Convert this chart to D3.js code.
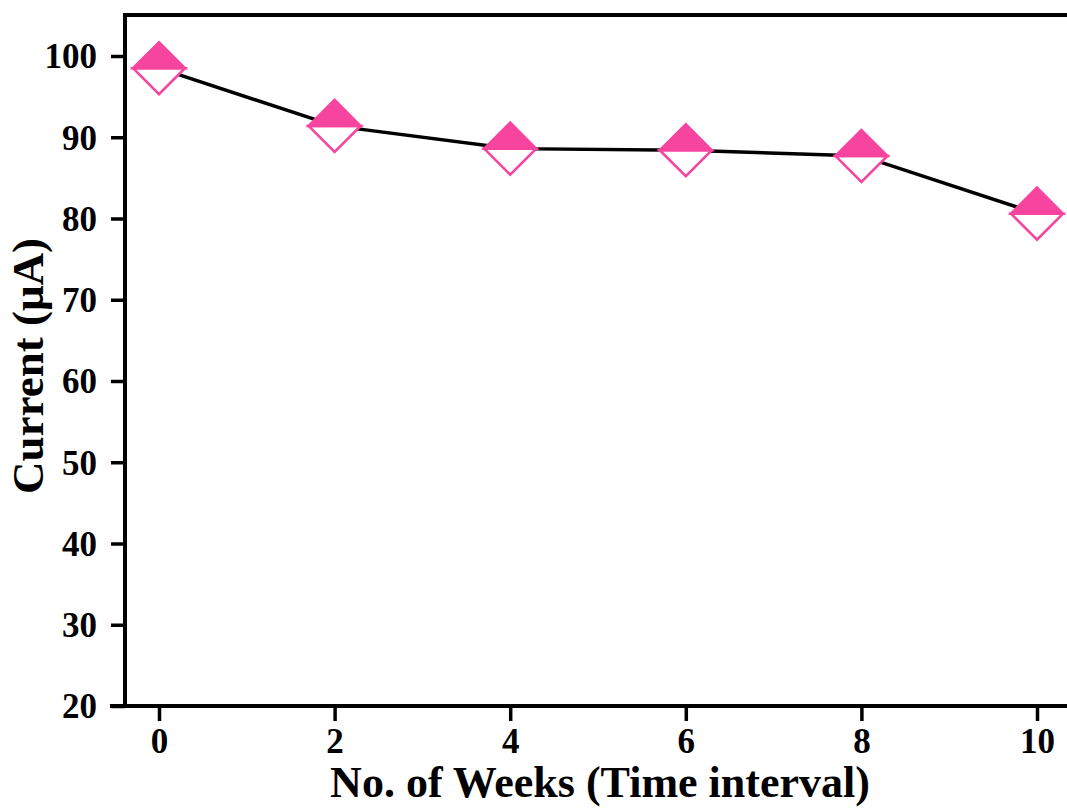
<!DOCTYPE html>
<html lang="en">
<head>
    <meta charset="UTF-8">
    <title>Current vs No. of Weeks</title>
    <style>
        body {
            margin: 0;
            padding: 0;
            background-color: #fff;
            overflow: hidden;
        }

        #chart text {
            font-family: "Liberation Serif", "Times New Roman", serif;
            font-weight: bold;
            fill: #000;
        }
    </style>
</head>
<body>

<svg id="chart" width="1067" height="810"></svg>

<script src="https://d3js.org/d3.v7.min.js"></script>
<script>
    // data
    const weeks = [0, 2, 4, 6, 8, 10];
    const current = [98.5, 91.4, 88.6, 88.4, 87.7, 80.6];
    const xTicks = [0, 2, 4, 6, 8, 10];
    const yTicks = [20, 30, 40, 50, 60, 70, 80, 90, 100];

    const pink = "#f7449f";
    const markerR = 26;

    const svg = d3.select("#chart");

    const x = d3.scaleLinear().domain([0, 10]).range([159, 1037]);
    const y = d3.scaleLinear().domain([20, 100]).range([706, 56]);

    const plotLeft = 125;
    const plotTop = y(105.05);
    const plotBottom = y(20);
    const plotRight = x(10.6); // right spine falls outside the picture

    // frame
    svg.append("path")
        .attr("d", `M${plotLeft},${plotBottom} L${plotLeft},${plotTop} L${plotRight},${plotTop} L${plotRight},${plotBottom}`)
        .attr("fill", "none")
        .attr("stroke", "#000")
        .attr("stroke-width", 4);

    // x axis
    const xAxis = svg.append("g")
        .attr("transform", `translate(0,${plotBottom})`)
        .call(d3.axisBottom(x).tickValues(xTicks).tickSizeOuter(0).tickSize(15).tickPadding(7));
    xAxis.select(".domain").remove();
    xAxis.append("line")
        .attr("x1", plotLeft - 15).attr("x2", plotRight)
        .attr("stroke", "#000").attr("stroke-width", 4);
    xAxis.selectAll(".tick line").attr("stroke", "#000").attr("stroke-width", 3.5);
    xAxis.selectAll(".tick text").style("font-size", "35px");

    // y axis
    const yAxis = svg.append("g")
        .attr("transform", `translate(${plotLeft},0)`)
        .call(d3.axisLeft(y).tickValues(yTicks).tickSizeOuter(0).tickSize(14).tickPadding(14));
    yAxis.select(".domain").remove();
    yAxis.selectAll(".tick line").attr("stroke", "#000").attr("stroke-width", 3.5);
    yAxis.selectAll(".tick text").style("font-size", "35px").attr("dy", "0.34em");

    // axis titles
    svg.append("text")
        .attr("x", 600)
        .attr("y", 797)
        .attr("text-anchor", "middle")
        .style("font-size", "44px")
        .text("No. of Weeks (Time interval)");

    svg.append("text")
        .attr("transform", "translate(43,366) rotate(-90)")
        .attr("text-anchor", "middle")
        .style("font-size", "45px")
        .text("Current (μA)");

    const points = weeks.map((w, i) => ({w: w, c: current[i]}));

    // connecting line
    svg.append("path")
        .datum(points)
        .attr("d", d3.line().x(d => x(d.w)).y(d => y(d.c)))
        .attr("fill", "none")
        .attr("stroke", "#000")
        .attr("stroke-width", 3.5);

    // half-filled diamond markers
    const r = markerR;
    const marks = svg.selectAll(".marker")
        .data(points)
        .enter().append("g")
        .attr("class", "marker")
        .attr("transform", d => `translate(${x(d.w)},${y(d.c)})`);

    marks.append("path")
        .attr("d", `M${-r},0 L0,${r} L${r},0 Z`)
        .attr("fill", "#fff")
        .attr("stroke", pink)
        .attr("stroke-width", 2.5)
        .attr("stroke-linejoin", "miter");

    marks.append("path")
        .attr("d", `M${-r},0 L0,${-r} L${r},0 Z`)
        .attr("fill", pink)
        .attr("stroke", pink)
        .attr("stroke-width", 2.5);
</script>

</body>
</html>
